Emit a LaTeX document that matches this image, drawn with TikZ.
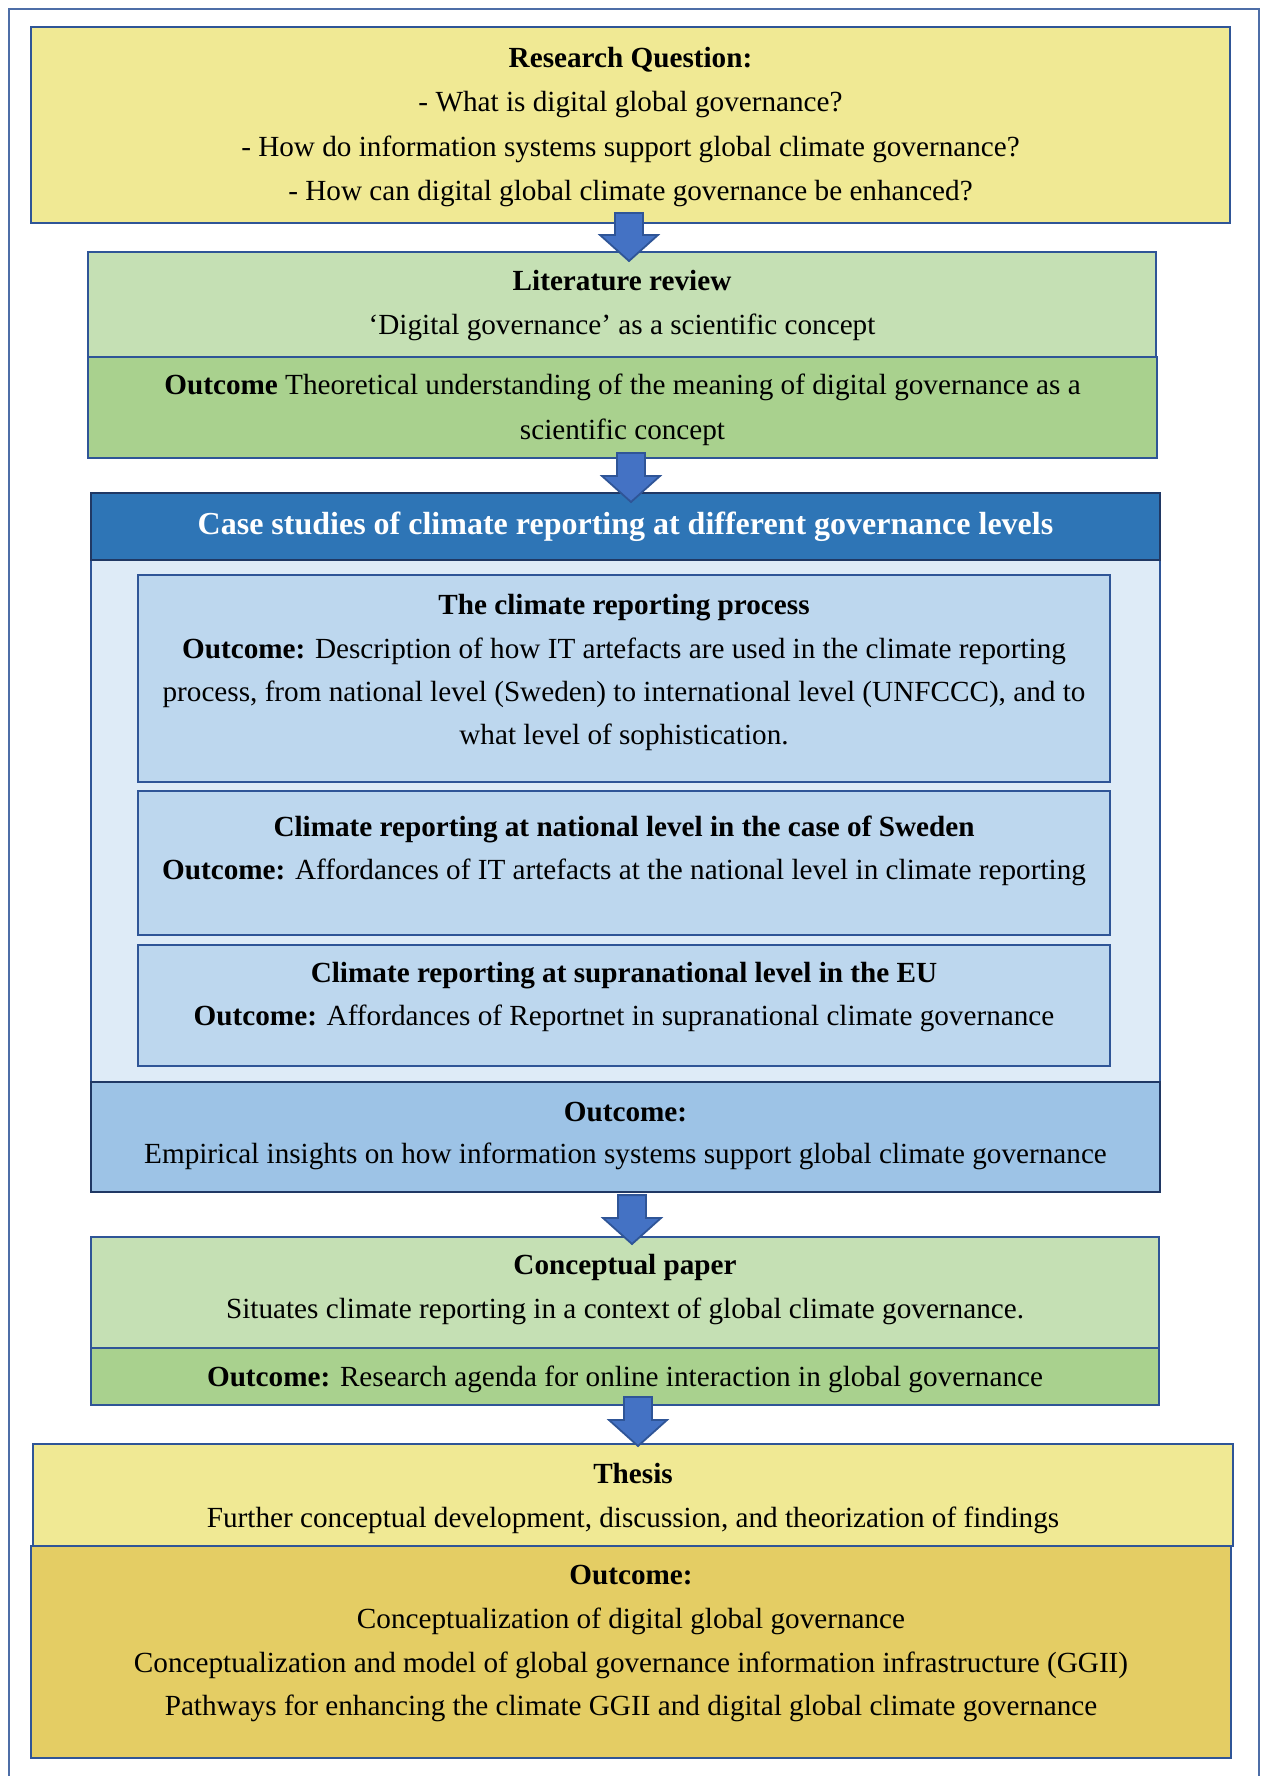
\documentclass[tikz,border=0pt]{standalone}
\usepackage{fontspec}
\setmainfont{Liberation Serif}
\usetikzlibrary{fit,calc}

\definecolor{bordblue}{HTML}{2F5597}
\definecolor{navy}{HTML}{203864}
\definecolor{qyellow}{HTML}{F0E994}
\definecolor{paleGreen}{HTML}{C5E0B4}
\definecolor{midGreen}{HTML}{A9D18E}
\definecolor{caseBg}{HTML}{DEEBF7}
\definecolor{caseHead}{HTML}{2E75B6}
\definecolor{caseInner}{HTML}{BDD7EE}
\definecolor{caseOut}{HTML}{9DC3E6}
\definecolor{thesisGold}{HTML}{E4CD64}
\definecolor{arrowBlue}{HTML}{4472C4}

% one line of text, centred on a box, placed by its baseline (y in px)
\newcommand\tline[5][]{\node[tl,#1] (#2) at (#3.north |- 0,#4) {#5};}

% block arrow from one box to the next: centre x, top offset below the
% source's lower edge, tip offset below the target's upper edge (px)
\newcommand\flowarrow[5]{%
  \draw[blockarrow] let \p1=(#1.south), \p2=(#2.north), \p3=(#3,0) in
    (\x3-7pt,{\y1-(#4)*0.5pt}) -- (\x3+7pt,{\y1-(#4)*0.5pt})
    -- (\x3+7pt,{\y2-(#5)*0.5pt+13pt}) -- (\x3+14.5pt,{\y2-(#5)*0.5pt+13pt})
    -- (\x3,{\y2-(#5)*0.5pt})
    -- (\x3-14.5pt,{\y2-(#5)*0.5pt+13pt}) -- (\x3-7pt,{\y2-(#5)*0.5pt+13pt})
    -- cycle;}

\begin{document}
\begin{tikzpicture}[x=0.5pt,y=-0.5pt,
  box/.style={draw=bordblue, line width=1pt, inner sep=0pt},
  darkbox/.style={draw=navy, line width=1.1pt, inner sep=0pt},
  tl/.style={anchor=base, inner sep=0pt, text=black,
    font=\fontsize{14.6}{17}\selectfont},
  headtext/.style={tl, text=white, font=\fontsize{16}{19}\selectfont\bfseries},
  blockarrow/.style={fill=arrowBlue, draw=bordblue, line width=0.9pt,
    line join=miter}]

\useasboundingbox (0,0) rectangle (1262,1776);

% outer frame, open at the bottom
\draw[bordblue!85, line width=1.1pt] (9,1780) -- (9,9) -- (1259,9) -- (1259,1780);

% research question
\node[box, fill=qyellow, fit={(31,27)(1230,223)}] (rq) {};

% literature review
\node[box, fill=paleGreen, fit={(88,252)(1156,357)}] (lit) {};
\node[box, fill=midGreen, fit={(88,357)(1157,458)}] (litout) {};

% case studies
\node[box, fill=caseBg, fit={(91,493)(1160,1082)}] (case) {};
\node[darkbox, fill=caseHead, fit={(91,493)(1160,560)}] (casehead) {};
\node[box, fill=caseInner, fit={(138,575)(1110,782)}] (inA) {};
\node[box, fill=caseInner, fit={(138,791)(1110,935)}] (inB) {};
\node[box, fill=caseInner, fit={(138,945)(1110,1066)}] (inC) {};
\node[darkbox, fill=caseOut, fit={(91,1082)(1160,1192)}] (caseout) {};

% conceptual paper
\node[box, fill=paleGreen, fit={(91,1237)(1159,1348)}] (concept) {};
\node[box, fill=midGreen, fit={(91,1348)(1159,1405)}] (conceptout) {};

% thesis
\node[box, fill=qyellow, fit={(33,1444)(1233,1546)}] (thesis) {};
\node[box, fill=thesisGold, fit={(31,1546)(1231,1758)}] (thesisout) {};

% arrows between the stages
\flowarrow{rq}{lit}{629}{-11}{10}
\flowarrow{litout}{case}{631}{-6}{10}
\flowarrow{caseout}{concept}{632}{2}{8}
\flowarrow{conceptout}{thesis}{638}{-9}{3}

% texts
\tline{rq1}{rq}{68}{\textbf{Research Question:}}
\tline{rq2}{rq}{112}{- What is digital global governance?}
\tline{rq3}{rq}{157}{- How do information systems support global climate governance?}
\tline{rq4}{rq}{201}{- How can digital global climate governance be enhanced?}

\tline{lit1}{lit}{290}{\textbf{Literature review}}
\tline{lit2}{lit}{334}{‘Digital governance’ as a scientific concept}
\tline{lo1}{litout}{394}{\textbf{Outcome} Theoretical understanding of the meaning of digital governance as a}
\tline{lo2}{litout}{439}{scientific concept}

\tline[headtext]{ch}{casehead}{534}{Case studies of climate reporting at different governance levels}

\tline{a1}{inA}{614}{\textbf{The climate reporting process}}
\tline{a2}{inA}{658}{\textbf{Outcome:} Description of how IT artefacts are used in the climate reporting}
\tline{a3}{inA}{701}{process, from national level (Sweden) to international level (UNFCCC), and to}
\tline{a4}{inA}{744}{what level of sophistication.}

\tline{b1}{inB}{836}{\textbf{Climate reporting at national level in the case of Sweden}}
\tline{b2}{inB}{879}{\textbf{Outcome:} Affordances of IT artefacts at the national level in climate reporting}

\tline{c1}{inC}{982}{\textbf{Climate reporting at supranational level in the EU}}
\tline{c2}{inC}{1025}{\textbf{Outcome:} Affordances of Reportnet in supranational climate governance}

\tline{co1}{caseout}{1121}{\textbf{Outcome:}}
\tline{co2}{caseout}{1163}{Empirical insights on how information systems support global climate governance}

\tline{cp1}{concept}{1274}{\textbf{Conceptual paper}}
\tline{cp2}{concept}{1318}{Situates climate reporting in a context of global climate governance.}
\tline{cpo}{conceptout}{1386}{\textbf{Outcome:} Research agenda for online interaction in global governance}

\tline{th1}{thesis}{1483}{\textbf{Thesis}}
\tline{th2}{thesis}{1527}{Further conceptual development, discussion, and theorization of findings}
\tline{to1}{thesisout}{1584}{\textbf{Outcome:}}
\tline{to2}{thesisout}{1628}{Conceptualization of digital global governance}
\tline{to3}{thesisout}{1672}{Conceptualization and model of global governance information infrastructure (GGII)}
\tline{to4}{thesisout}{1715}{Pathways for enhancing the climate GGII and digital global climate governance}

\end{tikzpicture}
\end{document}
